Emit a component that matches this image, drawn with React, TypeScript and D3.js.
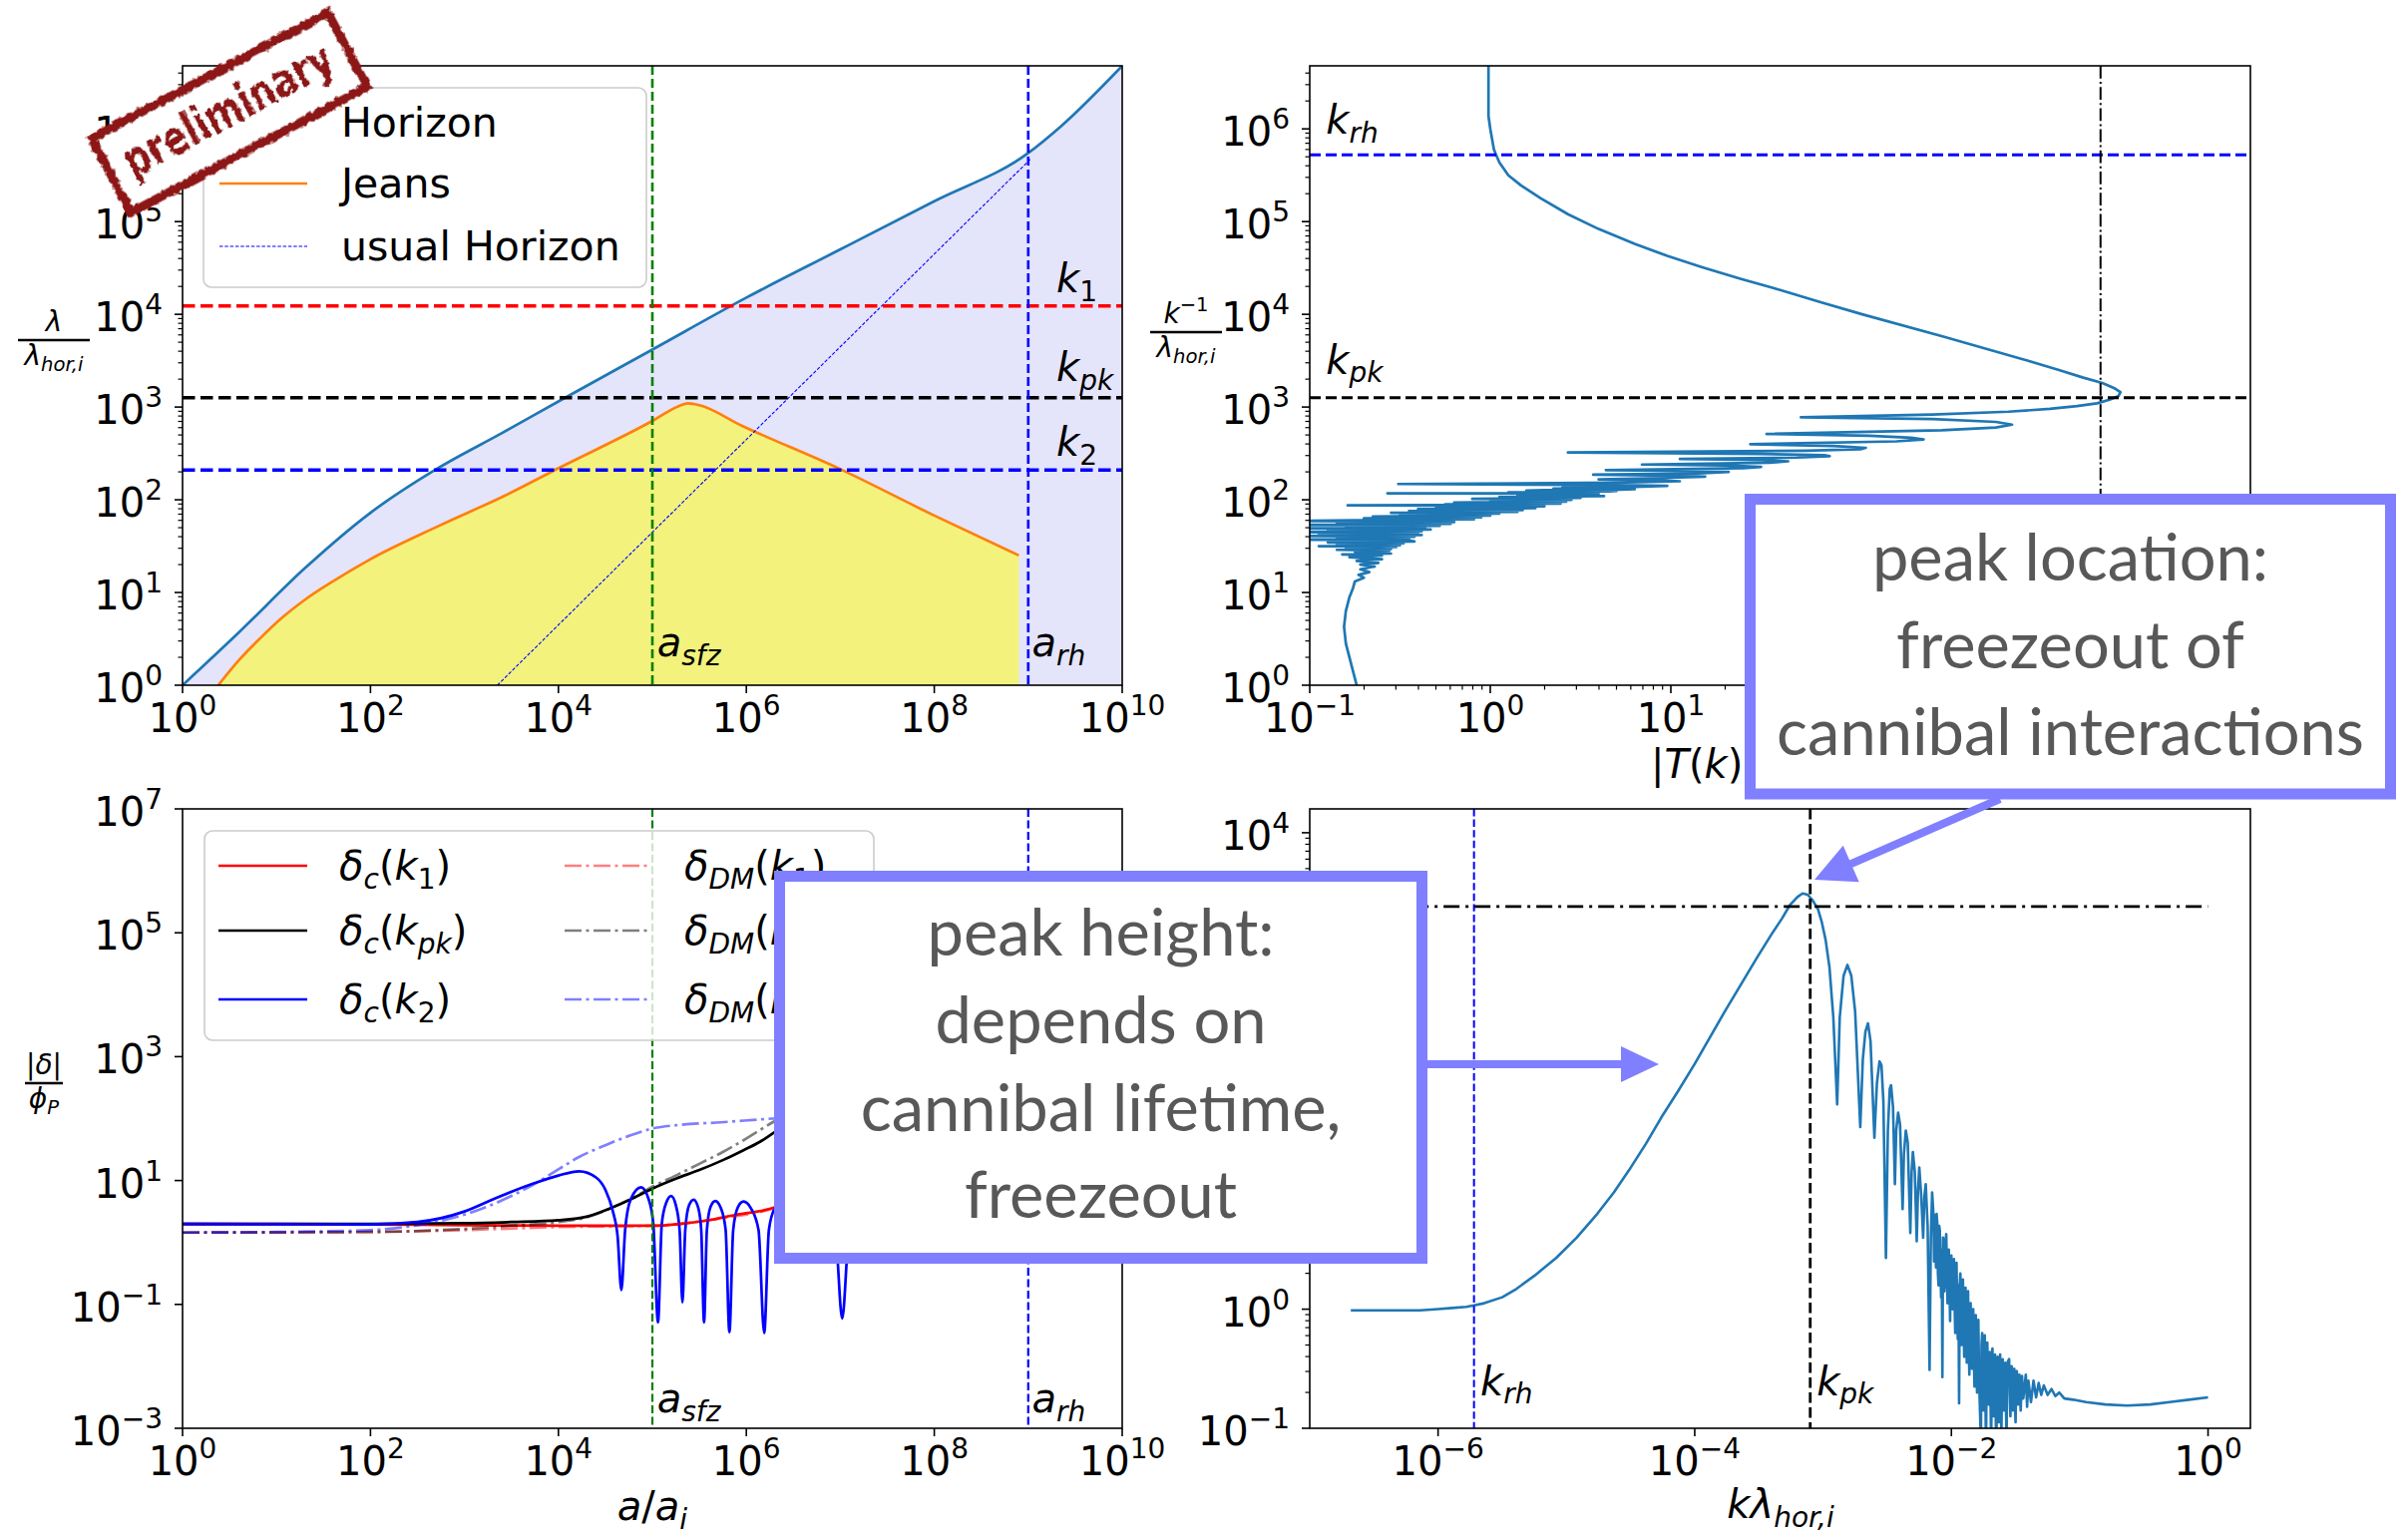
import React from "react";
import * as d3 from "d3";

const W = 2414;
const H = 1541;
const FONT = "DejaVu Sans";
const C0 = "#1f77b4";
const C1 = "#ff7f0e";
const CALLOUT = "#7f7fff";

const p10 = (e: number) => Math.pow(10, e);

// ---------- top-left panel: scales vs a/a_i (log10 a, log10 lambda)
const HORIZON = [[0, 0], [0.6, 0.57], [1.3, 1.26], [2, 1.86], [2.7, 2.33], [3.4, 2.72], [4, 3.06], [5, 3.62], [6, 4.18], [7, 4.7], [8, 5.22], [9, 5.74], [9.35, 6.03], [10, 6.68]];
const JEANS = [[0.38, 0], [0.6, 0.27], [0.83, 0.51], [1.05, 0.72], [1.3, 0.92], [1.6, 1.12], [2, 1.36], [2.73, 1.72], [3.44, 2.05], [4, 2.34], [5, 2.85], [5.28, 3.01], [5.38, 3.04], [5.5, 3.02], [5.95, 2.8], [7, 2.33], [8, 1.83], [8.9, 1.4]];
const USUAL_HORIZON = [[3.35, 0], [9.02, 5.67]];
const K_LEVELS = [4.09, 3.1, 2.32]; // k1, kpk, k2  (log10 lambda)
const A_SFZ = 5;
const A_RH = 9;

// ---------- transfer function |T(k)| (log10 k lambda_hor,i , log10 |T|)
const TRANSFER = [
  [-6.68, -0.01], [-6.4, -0.01], [-6.14, -0.01], [-6.0, 0.0], [-5.89, 0.01], [-5.78, 0.02], [-5.73, 0.03], [-5.64, 0.05], [-5.5, 0.1], [-5.39, 0.17],
  [-5.25, 0.28], [-5.08, 0.43], [-4.92, 0.6], [-4.76, 0.8], [-4.63, 0.98], [-4.51, 1.17], [-4.38, 1.39], [-4.26, 1.61], [-4.13, 1.83], [-4.0, 2.06],
  [-3.76, 2.51], [-3.51, 2.96], [-3.4, 3.15], [-3.32, 3.28], [-3.26, 3.39], [-3.2, 3.46], [-3.16, 3.49], [-3.12, 3.48], [-3.08, 3.43], [-3.04, 3.36],
  [-3.01, 3.25], [-2.98, 3.1], [-2.95, 2.87], [-2.92, 2.45], [-2.89, 1.72], [-2.87, 2.45], [-2.84, 2.8], [-2.81, 2.89], [-2.78, 2.8], [-2.75, 2.5],
  [-2.71, 1.53], [-2.69, 2.1], [-2.67, 2.33], [-2.65, 2.4], [-2.63, 2.25], [-2.6, 1.44], [-2.58, 1.9], [-2.56, 2.08], [-2.545, 2.05], [-2.53, 1.75],
  [-2.51, 0.43], [-2.495, 1.5], [-2.48, 1.85], [-2.47, 1.88], [-2.455, 1.7], [-2.44, 1.05], [-2.43, 1.5], [-2.415, 1.65], [-2.4, 1.55], [-2.38, 0.84],
  [-2.37, 1.3], [-2.355, 1.5], [-2.34, 1.4], [-2.32, 0.64], [-2.31, 1.15], [-2.3, 1.32], [-2.285, 1.15], [-2.27, 0.57], [-2.26, 1.0], [-2.25, 1.19],
  [-2.235, 0.95], [-2.22, 0.6], [-2.21, 0.95], [-2.2, 1.05], [-2.185, 0.7], [-2.17, -0.51], [-2.16, 0.6], [-2.15, 0.98], [-2.14, 0.8], [-2.135, 0.4],
  [-2.13, 0.79], [-2.125, 0.55], [-2.12, 0.35], [-2.115, 0.8], [-2.11, 0.72], [-2.105, 0.3], [-2.1, 0.2], [-2.095, 0.7], [-2.09, 0.66], [-2.085, 0.35],
  [-2.08, 0.1], [-2.075, 0.5], [-2.07, -0.57], [-2.065, 0.6], [-2.06, 0.55], [-2.055, 0.15], [-2.05, 0.25], [-2.045, 0.58], [-2.04, 0.63], [-2.035, 0.3],
  [-2.03, 0.05], [-2.025, 0.45], [-2.02, 0.5], [-2.015, 0.2], [-2.01, -0.1], [-2.005, 0.38], [-2.0, 0.45], [-1.995, 0.1], [-1.99, 0.0], [-1.985, 0.35],
  [-1.98, 0.42], [-1.975, 0.05], [-1.97, -0.2], [-1.965, 0.32], [-1.96, 0.39], [-1.955, 0.0], [-1.95, -0.25], [-1.945, 0.2], [-1.94, -0.79], [-1.935, 0.2],
  [-1.93, 0.3], [-1.925, -0.05], [-1.92, -0.3], [-1.915, 0.15], [-1.91, 0.25], [-1.905, -0.15], [-1.9, -0.4], [-1.895, 0.1], [-1.89, 0.18], [-1.885, -0.2],
  [-1.88, -0.45], [-1.875, 0.05], [-1.87, 0.15], [-1.865, -0.3], [-1.86, -0.55], [-1.855, -0.05], [-1.85, 0.05], [-1.845, -0.25], [-1.84, -0.5], [-1.835, -0.1],
  [-1.83, 0.0], [-1.825, -0.4], [-1.82, -0.65], [-1.815, -0.15], [-1.81, -0.05], [-1.805, -0.45], [-1.8, -0.7], [-1.795, -0.2], [-1.79, -0.09], [-1.785, -0.5],
  [-1.78, -0.75], [-1.77, -1.1], [-1.765, -0.3], [-1.76, -0.2], [-1.755, -0.6], [-1.75, -0.85], [-1.745, -0.3], [-1.74, -0.22], [-1.735, -0.7], [-1.73, -1.2],
  [-1.725, -0.35], [-1.72, -0.28], [-1.715, -0.6], [-1.71, -0.8], [-1.705, -0.4], [-1.7, -0.36], [-1.695, -0.75], [-1.69, -1.15], [-1.685, -0.4], [-1.68, -0.33],
  [-1.675, -0.7], [-1.67, -0.9], [-1.665, -0.45], [-1.66, -0.38], [-1.655, -0.8], [-1.65, -1.3], [-1.645, -0.45], [-1.64, -0.4], [-1.635, -0.75], [-1.63, -0.95],
  [-1.625, -0.45], [-1.62, -0.38], [-1.615, -0.8], [-1.61, -1.05], [-1.605, -0.5], [-1.6, -0.42], [-1.595, -0.7], [-1.59, -0.85], [-1.585, -0.5], [-1.58, -0.45],
  [-1.575, -0.8], [-1.57, -1.1], [-1.565, -0.5], [-1.56, -0.44], [-1.55, -0.42], [-1.545, -0.7], [-1.54, -0.9], [-1.535, -0.55], [-1.53, -0.48], [-1.525, -0.7],
  [-1.52, -0.85], [-1.515, -0.55], [-1.51, -0.5], [-1.505, -0.75], [-1.5, -0.95], [-1.495, -0.6], [-1.49, -0.52], [-1.485, -0.7], [-1.48, -0.8], [-1.475, -0.6],
  [-1.47, -0.55], [-1.46, -0.85], [-1.45, -0.56], [-1.44, -0.75], [-1.42, -0.55], [-1.41, -0.82], [-1.4, -0.6], [-1.38, -0.78], [-1.36, -0.6], [-1.34, -0.74],
  [-1.32, -0.62], [-1.3, -0.72], [-1.28, -0.64], [-1.25, -0.72], [-1.22, -0.67], [-1.19, -0.73], [-1.16, -0.7], [-1.12, -0.75], [-1.05, -0.76], [-0.95, -0.78],
  [-0.8, -0.8], [-0.63, -0.81], [-0.45, -0.8], [-0.3, -0.78], [-0.15, -0.76], [0, -0.74],
];
const K_RH = -5.72;       // log10 k_rh lambda
const K_PK = -3.1;        // log10 k_pk lambda
const T_PEAK_LEVEL = 3.38; // log10 |T| reference level

// ---------- bottom-left: density contrasts (log10 a, log10 |delta|/phi_P)
const DC_K1 = [[0, 0.3], [1, 0.3], [2, 0.29], [3, 0.28], [4, 0.27], [4.67, 0.27], [5, 0.27], [5.3, 0.3], [5.64, 0.37], [5.9, 0.45], [6.19, 0.52], [6.31, 0.57], [6.6, 0.78], [7, 1.05], [8, 1.5], [9, 1.9], [10, 2.2]];
const DC_KPK = [[0, 0.3], [2, 0.3], [3, 0.31], [3.5, 0.33], [4, 0.36], [4.31, 0.42], [4.55, 0.55], [4.79, 0.71], [5, 0.87], [5.25, 1.03], [5.5, 1.17], [5.75, 1.33], [5.97, 1.49], [6.15, 1.63], [6.3, 1.78], [7, 2.3], [8, 3.0], [9, 3.6], [10, 4.0]];
const DC_K2 = [[0, 0.3], [1, 0.295], [2, 0.29], [2.5, 0.33], [3, 0.5], [3.34, 0.72], [3.75, 0.96], [4.0, 1.08], [4.22, 1.15], [4.4, 1.05], [4.5, 0.85], [4.58, 0.5], [4.63, 0.1], [4.67, -0.77], [4.71, 0.2], [4.77, 0.7], [4.88, 0.89], [4.96, 0.7], [5.01, 0.3], [5.06, -1.29], [5.1, 0.3], [5.15, 0.65], [5.2, 0.75], [5.25, 0.6], [5.29, 0.2], [5.32, -0.97], [5.35, 0.2], [5.39, 0.6], [5.44, 0.69], [5.49, 0.55], [5.52, 0.2], [5.55, -1.29], [5.58, 0.2], [5.62, 0.58], [5.67, 0.67], [5.73, 0.55], [5.78, 0.2], [5.82, -1.45], [5.86, 0.2], [5.91, 0.57], [5.97, 0.66], [6.05, 0.55], [6.13, 0.2], [6.19, -1.46], [6.24, 0.2], [6.3, 0.55], [6.5, 0.85], [6.8, 0.6], [6.95, 0.1], [7.02, -1.23], [7.09, 0.1], [7.3, 0.9], [8, 1.5], [9, 2.1], [10, 2.5]];
const DDM_K1 = [[0, 0.16], [2, 0.17], [3, 0.2], [4, 0.25], [5, 0.27], [5.64, 0.37], [6.3, 0.55], [7, 0.95], [8, 1.5], [9, 1.9], [10, 2.2]];
const DDM_KPK = [[0, 0.16], [2, 0.17], [3, 0.22], [3.5, 0.27], [4, 0.33], [4.31, 0.41], [4.55, 0.55], [4.79, 0.72], [5, 0.9], [5.25, 1.08], [5.5, 1.27], [5.75, 1.46], [5.97, 1.65], [6.28, 1.94], [7, 2.5], [8, 3.2], [9, 3.8], [10, 4.2]];
const DDM_K2 = [[0, 0.16], [1, 0.17], [2, 0.2], [2.5, 0.28], [3, 0.45], [3.37, 0.66], [3.75, 0.95], [4.0, 1.18], [4.22, 1.38], [4.5, 1.57], [4.75, 1.72], [5, 1.84], [5.3, 1.9], [5.73, 1.94], [6.28, 2.0], [7, 2.05], [8, 2.1], [9, 2.15], [10, 2.2]];

// tick exponents
const X_A_TICKS = [0, 2, 4, 6, 8, 10];
const Y_TOP_TICKS = [0, 1, 2, 3, 4, 5, 6];
const X_TR_TICKS = [-1, 0, 1, 2, 3, 4];
const Y_BL_TICKS = [-3, -1, 1, 3, 5, 7];
const X_BR_TICKS = [-6, -4, -2, 0];
const Y_BR_TICKS = [-1, 0, 1, 2, 3, 4];

const CALLOUT_A = ["peak location:", "freezeout of", "cannibal interactions"];
const CALLOUT_B = ["peak height:", "depends on", "cannibal lifetime,", "freezeout"];

// ---------- panel boxes (pixels)
const TL = { x0: 183, x1: 1125, y0: 66, y1: 687 };
const TR = { x0: 1313, x1: 2256, y0: 66, y1: 687 };
const BL = { x0: 183, x1: 1125, y0: 811, y1: 1432 };
const BR = { x0: 1313, x1: 2256, y0: 811, y1: 1432 };

const xTL = d3.scaleLog().domain([1, 1e10]).range([TL.x0, TL.x1]);
const yTL = d3.scaleLog().domain([1, p10(6.68)]).range([TL.y1, TL.y0]);
const xTR = d3.scaleLog().domain([0.1, p10(4.21)]).range([TR.x0, TR.x1]);
const yTR = d3.scaleLog().domain([1, p10(6.68)]).range([TR.y1, TR.y0]);
const xBL = d3.scaleLog().domain([1, 1e10]).range([BL.x0, BL.x1]);
const yBL = d3.scaleLog().domain([1e-3, 1e7]).range([BL.y1, BL.y0]);
const xBR = d3.scaleLog().domain([1e-7, p10(0.33)]).range([BR.x0, BR.x1]);
const yBR = d3.scaleLog().domain([0.1, p10(4.2)]).range([BR.y1, BR.y0]);

const isDecade = (v: number) => Math.abs(Math.log10(v) - Math.round(Math.log10(v))) < 1e-9;

function TickLabel({ x, y, e, anchor }: any) {
  const s = e < 0 ? "\u2212" + Math.abs(e) : String(e);
  return (
    <text x={x} y={y} textAnchor={anchor} fontSize={40} fontFamily={FONT}>
      10<tspan dy={-17} fontSize={28}>{s}</tspan>
    </text>
  );
}

// mathtext-like label; segs: [text, mode] mode: i, r, si (sub italic), sr (sub roman), pr (sup roman)
function MathText({ x, y, segs, fs = 40, anchor = "start", fill = "black" }: any) {
  let cur = 0;
  const spans = segs.map(([t, m]: any, i: number) => {
    const sub = m.startsWith("s");
    const sup = m.startsWith("p");
    const target = sub ? 0.22 * fs : sup ? -0.42 * fs : 0;
    const dy = target - cur;
    cur = target;
    return (
      <tspan key={i} dy={dy} fontSize={sub || sup ? fs * 0.7 : fs} fontStyle={m.endsWith("i") ? "italic" : "normal"}>
        {t}
      </tspan>
    );
  });
  return (
    <text x={x} y={y} textAnchor={anchor} fontSize={fs} fontFamily={FONT} fill={fill}>
      {spans}
    </text>
  );
}

function Fraction({ cx, barY, half, num, den, fs = 28 }: any) {
  return (
    <g>
      <MathText x={cx} y={barY - 9} segs={num} fs={fs} anchor="middle" />
      <line x1={cx - half} x2={cx + half} y1={barY} y2={barY} stroke="black" strokeWidth={2.6} />
      <MathText x={cx} y={barY + 25} segs={den} fs={fs} anchor="middle" />
    </g>
  );
}

function Frame({ id, box, x, y, xTicks, yTicks, xMinor = false, yMinor = false, children }: any) {
  const xm = xMinor ? x.ticks(10).filter((v: number) => !isDecade(v)) : [];
  const ym = yMinor ? y.ticks(10).filter((v: number) => !isDecade(v)) : [];
  return (
    <g>
      <clipPath id={id}>
        <rect x={box.x0} y={box.y0} width={box.x1 - box.x0} height={box.y1 - box.y0} />
      </clipPath>
      <g clipPath={`url(#${id})`}>{children}</g>
      {xm.map((v: number, i: number) => (
        <line key={"xm" + i} x1={x(v)} x2={x(v)} y1={box.y1} y2={box.y1 + 4.5} stroke="black" strokeWidth={1.2} />
      ))}
      {ym.map((v: number, i: number) => (
        <line key={"ym" + i} x1={box.x0 - 4.5} x2={box.x0} y1={y(v)} y2={y(v)} stroke="black" strokeWidth={1.2} />
      ))}
      {xTicks.map((e: number) => {
        const px = x(p10(e));
        return (
          <g key={"xt" + e}>
            <line x1={px} x2={px} y1={box.y1} y2={box.y1 + 8} stroke="black" strokeWidth={1.6} />
            <TickLabel x={px} y={box.y1 + 47} e={e} anchor="middle" />
          </g>
        );
      })}
      {yTicks.map((e: number) => {
        const py = y(p10(e));
        return (
          <g key={"yt" + e}>
            <line x1={box.x0 - 8} x2={box.x0} y1={py} y2={py} stroke="black" strokeWidth={1.6} />
            <TickLabel x={box.x0 - 20} y={py + 17} e={e} anchor="end" />
          </g>
        );
      })}
      <rect x={box.x0} y={box.y0} width={box.x1 - box.x0} height={box.y1 - box.y0} fill="none" stroke="black" strokeWidth={1.6} />
    </g>
  );
}

function TopLeft() {
  const x = xTL, y = yTL;
  const line = d3.line<number[]>().x((d) => x(p10(d[0]))).y((d) => y(p10(d[1]))).curve(d3.curveMonotoneX);
  const area = d3.area<number[]>().x((d) => x(p10(d[0]))).y0(TL.y1).y1((d) => y(p10(d[1]))).curve(d3.curveMonotoneX);
  const hColors = ["#ff0000", "#000000", "#0000ff"];
  const lx = x(p10(9.3));
  return (
    <g>
      <Frame id="tl" box={TL} x={x} y={y} xTicks={X_A_TICKS} yTicks={Y_TOP_TICKS} yMinor>
        <path d={area(HORIZON) || ""} fill="#e4e4fa" />
        <path d={area(JEANS) || ""} fill="#ffff00" fillOpacity={0.5} />
        <path d={line(HORIZON) || ""} fill="none" stroke={C0} strokeWidth={2.7} />
        <path d={line(JEANS) || ""} fill="none" stroke={C1} strokeWidth={2.7} />
        <path d={d3.line<number[]>().x((d) => x(p10(d[0]))).y((d) => y(p10(d[1])))(USUAL_HORIZON) || ""} fill="none" stroke="#0000ff" strokeWidth={1.1} strokeDasharray="3.5 1.8" />
        {K_LEVELS.map((k, i) => (
          <line key={i} x1={TL.x0} x2={TL.x1} y1={y(p10(k))} y2={y(p10(k))} stroke={hColors[i]} strokeWidth={3.4} strokeDasharray="12.5 5.5" />
        ))}
        <line x1={x(p10(A_SFZ))} x2={x(p10(A_SFZ))} y1={TL.y0} y2={TL.y1} stroke="#008000" strokeWidth={2.6} strokeDasharray="9 4" />
        <line x1={x(p10(A_RH))} x2={x(p10(A_RH))} y1={TL.y0} y2={TL.y1} stroke="#0000ff" strokeWidth={2.6} strokeDasharray="9 4" />
      </Frame>
      <MathText x={lx} y={y(p10(4.24))} segs={[["k", "i"], ["1", "sr"]]} />
      <MathText x={lx} y={y(p10(3.28))} segs={[["k", "i"], ["pk", "si"]]} />
      <MathText x={lx} y={y(p10(2.47))} segs={[["k", "i"], ["2", "sr"]]} />
      <MathText x={x(p10(5.05))} y={y(p10(0.31))} segs={[["a", "i"], ["sfz", "si"]]} />
      <MathText x={x(p10(9.04))} y={y(p10(0.31))} segs={[["a", "i"], ["rh", "si"]]} />
      {/* legend */}
      <rect x={204} y={88} width={444} height={200} rx={8} fill="white" fillOpacity={0.8} stroke="#cccccc" strokeWidth={1.6} />
      <line x1={220} x2={308} y1={123} y2={123} stroke={C0} strokeWidth={2.7} />
      <line x1={220} x2={308} y1={184} y2={184} stroke={C1} strokeWidth={2.7} />
      <line x1={220} x2={308} y1={247} y2={247} stroke="#0000ff" strokeWidth={1.1} strokeDasharray="3.5 1.8" />
      <text x={342} y={137} fontSize={41}>Horizon</text>
      <text x={342} y={198} fontSize={41}>Jeans</text>
      <text x={342} y={261} fontSize={41}>usual Horizon</text>
      <Fraction cx={54} barY={341} half={36} num={[["λ", "i"]]} den={[["λ", "i"], ["hor,i", "si"]]} />
    </g>
  );
}

function TopRight() {
  const x = xTR, y = yTR;
  const line = d3.line<number[]>().x((d) => x(p10(d[1]))).y((d) => y(p10(-d[0])));
  return (
    <g>
      <Frame id="tr" box={TR} x={x} y={y} xTicks={X_TR_TICKS} yTicks={Y_TOP_TICKS} xMinor yMinor>
        <path d={line(TRANSFER) || ""} fill="none" stroke={C0} strokeWidth={2.7} strokeLinejoin="round" />
        <line x1={TR.x0} x2={TR.x1} y1={y(p10(-K_RH))} y2={y(p10(-K_RH))} stroke="#0000ff" strokeWidth={3} strokeDasharray="11 5" />
        <line x1={TR.x0} x2={TR.x1} y1={y(p10(-K_PK))} y2={y(p10(-K_PK))} stroke="#000000" strokeWidth={3} strokeDasharray="11 5" />
        <line x1={x(p10(T_PEAK_LEVEL))} x2={x(p10(T_PEAK_LEVEL))} y1={TR.y0} y2={TR.y1} stroke="#000000" strokeWidth={2} strokeDasharray="12.8 3.2 2 3.2" />
      </Frame>
      <MathText x={x(p10(-0.91))} y={y(p10(5.95))} segs={[["k", "i"], ["rh", "si"]]} />
      <MathText x={x(p10(-0.91))} y={y(p10(3.36))} segs={[["k", "i"], ["pk", "si"]]} />
      <MathText x={1655} y={780} segs={[["|", "r"], ["T", "i"], ["(", "r"], ["k", "i"], [")", "r"], ["|", "r"]]} />
      <Fraction cx={1189} barY={333} half={36} num={[["k", "i"], ["\u22121", "pr"]]} den={[["λ", "i"], ["hor,i", "si"]]} />
    </g>
  );
}

function BottomLeft() {
  const x = xBL, y = yBL;
  const line = d3.line<number[]>().x((d) => x(p10(d[0]))).y((d) => y(p10(d[1]))).curve(d3.curveMonotoneX);
  const solid = [[DC_K1, "#ff0000"], [DC_KPK, "#000000"], [DC_K2, "#0000ff"]] as any[];
  const dm = [[DDM_K1, "rgba(255,0,0,0.5)"], [DDM_KPK, "rgba(0,0,0,0.5)"], [DDM_K2, "rgba(0,0,255,0.5)"]] as any[];
  const DD = "17 4.5 3 4.5";
  const rows = [868, 933, 1002];
  const names = [["1", "sr"], ["pk", "si"], ["2", "sr"]];
  return (
    <g>
      <Frame id="bl" box={BL} x={x} y={y} xTicks={X_A_TICKS} yTicks={Y_BL_TICKS}>
        {solid.map(([d, c], i) => (
          <path key={"s" + i} d={line(d) || ""} fill="none" stroke={c} strokeWidth={2.7} />
        ))}
        {dm.map(([d, c], i) => (
          <path key={"d" + i} d={line(d) || ""} fill="none" stroke={c} strokeWidth={2.7} strokeDasharray={DD} />
        ))}
        <line x1={x(p10(A_SFZ))} x2={x(p10(A_SFZ))} y1={BL.y0} y2={BL.y1} stroke="#008000" strokeWidth={2.2} strokeDasharray="8 3.5" />
        <line x1={x(p10(A_RH))} x2={x(p10(A_RH))} y1={BL.y0} y2={BL.y1} stroke="#0000ff" strokeWidth={2.2} strokeDasharray="8 3.5" />
      </Frame>
      <MathText x={x(p10(5.05))} y={y(p10(-2.74))} segs={[["a", "i"], ["sfz", "si"]]} />
      <MathText x={x(p10(9.04))} y={y(p10(-2.74))} segs={[["a", "i"], ["rh", "si"]]} />
      <rect x={205} y={833} width={671} height={210} rx={8} fill="white" fillOpacity={0.8} stroke="#cccccc" strokeWidth={1.6} />
      {rows.map((ry, i) => (
        <g key={i}>
          <line x1={219} x2={308} y1={ry} y2={ry} stroke={solid[i][1]} strokeWidth={2.7} />
          <line x1={566} x2={653} y1={ry} y2={ry} stroke={dm[i][1]} strokeWidth={2.7} strokeDasharray={DD} />
          <MathText x={340} y={ry + 14} segs={[["δ", "i"], ["c", "si"], ["(", "r"], ["k", "i"], names[i], [")", "r"]]} />
          <MathText x={686} y={ry + 14} segs={[["δ", "i"], ["DM", "si"], ["(", "r"], ["k", "i"], names[i], [")", "r"]]} />
        </g>
      ))}
      <MathText x={654} y={1524} anchor="middle" segs={[["a", "i"], ["/", "r"], ["a", "i"], ["i", "si"]]} />
      <Fraction cx={44} barY={1086} half={19} num={[["|", "r"], ["δ", "i"], ["|", "r"]]} den={[["ϕ", "i"], ["P", "si"]]} />
    </g>
  );
}

function BottomRight() {
  const x = xBR, y = yBR;
  const line = d3.line<number[]>().x((d) => x(p10(d[0]))).y((d) => y(p10(d[1])));
  const first = TRANSFER[0][0];
  const last = TRANSFER[TRANSFER.length - 1][0];
  return (
    <g>
      <Frame id="br" box={BR} x={x} y={y} xTicks={X_BR_TICKS} yTicks={Y_BR_TICKS} yMinor>
        <path d={line(TRANSFER) || ""} fill="none" stroke={C0} strokeWidth={2.6} strokeLinejoin="round" />
        <line x1={x(p10(K_RH))} x2={x(p10(K_RH))} y1={BR.y0} y2={BR.y1} stroke="#0000ff" strokeWidth={2} strokeDasharray="7.4 3.2" />
        <line x1={x(p10(K_PK))} x2={x(p10(K_PK))} y1={BR.y0} y2={BR.y1} stroke="#000000" strokeWidth={2.8} strokeDasharray="10.5 4.5" />
        <line x1={x(p10(first))} x2={x(p10(last))} y1={y(p10(T_PEAK_LEVEL))} y2={y(p10(T_PEAK_LEVEL))} stroke="#000000" strokeWidth={2.8} strokeDasharray="16 6 3 6" />
      </Frame>
      <MathText x={x(p10(-5.67))} y={y(p10(-0.72))} segs={[["k", "i"], ["rh", "si"]]} />
      <MathText x={x(p10(-3.05))} y={y(p10(-0.72))} segs={[["k", "i"], ["pk", "si"]]} />
      <MathText x={1785} y={1522} anchor="middle" segs={[["k", "i"], ["λ", "i"], ["hor,i", "si"]]} />
    </g>
  );
}

function Stamp() {
  const red = "#8d1616";
  return (
    <g transform="translate(230,113) rotate(-28)" filter="url(#rough)">
      <rect x={-134} y={-42} width={268} height={84} fill="white" stroke={red} strokeWidth={9} />
      <text x={0} y={13} textAnchor="middle" fontFamily={FONT} fontWeight="bold" fontSize={48} fill={red} textLength={232} lengthAdjust="spacingAndGlyphs">
        preliminary
      </text>
    </g>
  );
}

function Arrow({ x1, y1, x2, y2, len, half }: any) {
  const dx = x2 - x1, dy = y2 - y1;
  const L = Math.hypot(dx, dy);
  const ux = dx / L, uy = dy / L;
  const bx = x2 - ux * len, by = y2 - uy * len;
  const pts = [[x2, y2], [bx - uy * half, by + ux * half], [bx + uy * half, by - ux * half]];
  return (
    <g>
      <line x1={x1} y1={y1} x2={bx + ux * 2} y2={by + uy * 2} stroke={CALLOUT} strokeWidth={8} />
      <polygon points={pts.map((p) => p.join(",")).join(" ")} fill={CALLOUT} />
    </g>
  );
}

function Callout({ x, y, w, h, lines, baselines }: any) {
  return (
    <g>
      <rect x={x} y={y} width={w} height={h} fill="white" stroke={CALLOUT} strokeWidth={11} />
      {lines.map((t: string, i: number) => (
        <text key={i} x={x + w / 2} y={baselines[i]} textAnchor="middle" fontFamily="Lato" fontWeight={400} fontSize={65} fill="#585858">
          {t}
        </text>
      ))}
    </g>
  );
}

export default function App() {
  return (
    <svg width={W} height={H} style={{ position: "absolute", left: 0, top: 0 }} fontFamily={FONT}>
      <defs>
        <filter id="rough" x="-15%" y="-25%" width="130%" height="150%">
          <feTurbulence type="fractalNoise" baseFrequency="0.18" numOctaves={2} seed={4} result="n" />
          <feDisplacementMap in="SourceGraphic" in2="n" scale={6} xChannelSelector="R" yChannelSelector="G" />
        </filter>
      </defs>
      <rect width={W} height={H} fill="white" />
      <TopLeft />
      <TopRight />
      <BottomLeft />
      <BottomRight />
      <Stamp />
      <Arrow x1={2005} y1={801} x2={1819} y2={882} len={40} half={20} />
      <Callout x={1754.5} y={500.5} w={642} h={295.5} lines={CALLOUT_A} baselines={[582, 670, 757]} />
      <Arrow x1={1425} y1={1067} x2={1663} y2={1067} len={38} half={18} />
      <Callout x={781.5} y={878.5} w={644} h={383} lines={CALLOUT_B} baselines={[958, 1046, 1134, 1221]} />
    </svg>
  );
}
